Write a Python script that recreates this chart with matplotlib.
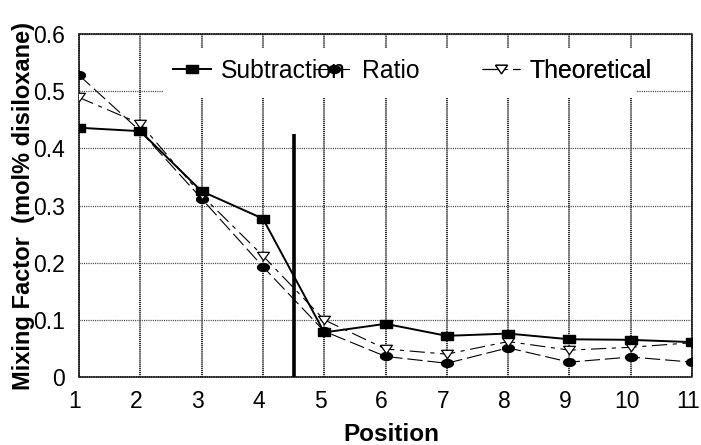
import numpy as np
import matplotlib
matplotlib.use("Agg")
import matplotlib.pyplot as plt
from matplotlib.patches import Rectangle
from matplotlib.transforms import ScaledTranslation

plt.rcParams['font.family'] = ['Liberation Sans', 'DejaVu Sans']
plt.rcParams['lines.scale_dashes'] = False

# Data
positions = [1, 2, 3, 4, 5, 6, 7, 8, 9, 10, 11]
subtraction = [0.436, 0.430, 0.325, 0.277, 0.078, 0.093, 0.072, 0.076, 0.066, 0.065, 0.061]
ratio = [0.528, 0.430, 0.312, 0.193, 0.080, 0.036, 0.024, 0.051, 0.026, 0.035, 0.026]
theoretical = [0.489, 0.443, 0.318, 0.212, 0.100, 0.049, 0.040, 0.062, 0.047, 0.052, 0.060]
series_names = ["Subtraction", "Ratio", "Theoretical"]
y_ticks = [0, 0.1, 0.2, 0.3, 0.4, 0.5, 0.6]
y_tick_labels = ["0", "0.1", "0.2", "0.3", "0.4", "0.5", "0.6"]
boundary_position = 4.5
boundary_height = 0.425

# Wide marker shapes
rect_marker = [(-1.5, -1.0), (1.5, -1.0), (1.5, 1.0), (-1.5, 1.0), (-1.5, -1.0)]
t = np.linspace(0, 2 * np.pi, 40)
ellipse_marker = list(zip(1.5 * np.cos(t), 1.0 * np.sin(t)))
tri_marker = [(-1.4, 1.0), (1.4, 1.0), (0.0, -1.0), (-1.4, 1.0)]

fig = plt.figure(figsize=(7.01, 4.45), dpi=100)
ax = fig.add_axes([0.1127, 0.1528, 0.8745, 0.7708])

l1, = ax.plot(positions, subtraction, color='black', lw=1.4, ls='-',
              marker=rect_marker, ms=9, mfc='black', mec='black', zorder=4)
l2, = ax.plot(positions, ratio, color='black', lw=0.8, dashes=(11, 3.5),
              marker=ellipse_marker, ms=8.5, mfc='black', mec='black', zorder=3)
l3, = ax.plot(positions, theoretical, color='black', lw=0.8, dashes=(11, 4, 3, 4),
              marker=tri_marker, ms=8.5, mfc='white', mec='black', mew=0.9, zorder=3.5)

ax.vlines(boundary_position, 0, boundary_height, color='black', lw=2.6, zorder=5)

ax.set_xlim(1, 11)
ax.set_ylim(0, 0.6)
ax.set_xticks(positions)
ax.set_xticklabels([str(p) for p in positions])
ax.set_yticks(y_ticks)
ax.set_yticklabels(y_tick_labels)
ax.tick_params(axis='both', length=0, labelsize=16.5)
ax.tick_params(axis='y', pad=10)
ax.tick_params(axis='x', pad=9)

# x tick labels sit a little left of their grid lines
shift = ScaledTranslation(-4 / 100, 0, fig.dpi_scale_trans)
for lab in ax.get_xticklabels():
    lab.set_transform(lab.get_transform() + shift)

ax.set_axisbelow(True)
ax.grid(axis='x', color='black', lw=1.2, dashes=(0.8, 0.6))
ax.grid(axis='y', color='#444444', lw=0.9, dashes=(0.8, 0.8))
for s in ax.spines.values():
    s.set_linestyle((0, (0.8, 0.8)))
    s.set_color('#222222')
    s.set_linewidth(1.1)

ax.set_xlabel("Position", fontsize=17.5, fontweight='bold')
ax.set_ylabel("Mixing Factor  (mol% disiloxane)", fontsize=17, fontweight='bold')
ax.xaxis.set_label_coords(0.51, -0.135)
ax.yaxis.set_label_coords(-0.072, 0.5)

# White band behind the legend entries
ax.add_patch(Rectangle((0.137, 0.813), 0.772, 0.146, transform=ax.transAxes,
                       facecolor='white', edgecolor='none', zorder=1))

handles = [l1, l2, l3]
anchors = [0.153, 0.384, 0.657]
for h, name, xa in zip(handles, series_names, anchors):
    leg = ax.legend([h], [name], loc='center left', bbox_to_anchor=(xa, 0.892),
                    frameon=False, fontsize=17.8, handlelength=1.56,
                    handletextpad=0.37, borderpad=0, borderaxespad=0)
    leg.set_zorder(6)
    ax.add_artist(leg)

fig.savefig("out.png", dpi=100)
